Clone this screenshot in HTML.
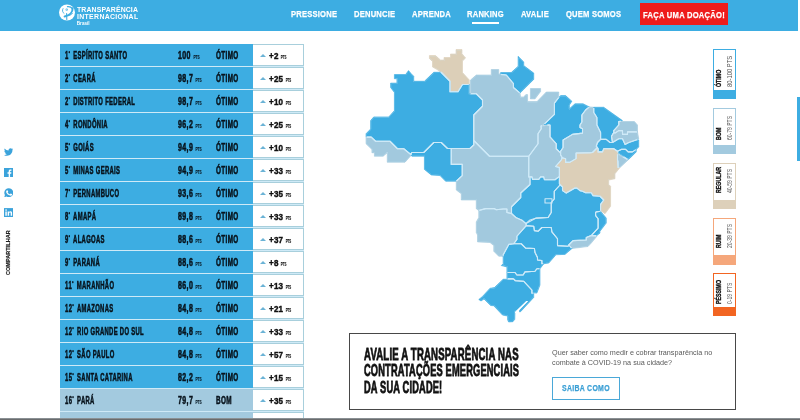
<!DOCTYPE html>
<html lang="pt-BR">
<head>
<meta charset="utf-8">
<title>Ranking de Transparência no Combate à COVID-19</title>
<style>
*{margin:0;padding:0;box-sizing:border-box}
html,body{width:800px;height:420px;overflow:hidden;background:#fff;font-family:"Liberation Sans",sans-serif}
body{position:relative}
.hdr{position:absolute;left:0;top:0;width:798px;height:30.5px;background:#3dade2}
.c{position:absolute;display:inline-block;white-space:nowrap;transform-origin:0 50%;font-weight:bold;color:#0f2a3a}
.nav{position:absolute;top:9.3px;font-size:9.5px;color:#fff;font-weight:bold;white-space:nowrap;display:inline-block;transform-origin:0 50%;transform:scaleX(.8);line-height:10px;letter-spacing:.25px;-webkit-text-stroke:.25px #fff}
.row{position:absolute;left:59.5px;width:244.6px;height:23px;background:linear-gradient(90deg,#3dade2 193.8px,#fff 193.8px);border-bottom:1.4px solid #cfeaf7}
.row.bom{background:linear-gradient(90deg,#a3cadf 193.8px,#fff 193.8px)}
.row .c{top:5.4px;font-size:10px;line-height:12px;transform:scaleX(.62);letter-spacing:.55px;-webkit-text-stroke:.55px #08131c;color:#08131c}
.row .name{left:5px;transform:scaleX(.588)}
.row .score{left:118.5px;transform:scaleX(.7)}
.row .grade{left:156px;transform:scaleX(.635)}
.row small{font-size:5.6px;-webkit-text-stroke:.2px #0f2a3a;display:inline-block;transform:scaleX(.8);transform-origin:0 50%;letter-spacing:0}
.row .dv small{font-size:5.4px;transform:scaleX(.55);-webkit-text-stroke:.15px #111}
.row sup{font-size:5px;vertical-align:4px;line-height:0}
.row .rk{margin-right:1.6px;letter-spacing:.9px}
.delta{position:absolute;left:193.6px;top:0;width:51px;height:21.6px;background:#fff;border:1px solid #a8cfdc;border-left:0}
.tri{position:absolute;left:7px;top:8.3px;width:0;height:0;border-left:3px solid transparent;border-right:3px solid transparent;border-bottom:3.4px solid #6bb3d6}
.delta .dv{left:16.4px;top:5.8px;font-size:8.2px;transform:scaleX(.98);letter-spacing:.2px;color:#111;-webkit-text-stroke:.4px #111}
.btn{position:absolute;left:640px;top:3px;width:88px;height:22px;background:#ee1c1c}
.btn .nav{left:3px;top:6.6px;letter-spacing:.32px;transform:scaleX(.8)}
.uline{position:absolute;left:472px;top:21.5px;width:27px;height:2px;background:#fff}
.lg{position:absolute;left:713px;width:23px;background:#fff;border:1px solid}
.lg i{position:absolute;left:0;right:0;bottom:0;height:8.5px}
.lg .v{position:absolute;left:0;bottom:9px;width:0;height:0}
.lg .v span{position:absolute;left:12px;top:0;display:block;white-space:nowrap;transform-origin:0 0;transform:rotate(-90deg) scaleX(.86);font-size:6.8px;line-height:8px;color:#555}
.lg .v span.b{left:1.4px;font-size:6.6px;transform:rotate(-90deg) scaleX(.8);font-weight:bold;color:#111;-webkit-text-stroke:.3px #111;letter-spacing:0}
.cta{position:absolute;left:349.3px;top:332.8px;width:387.2px;height:77px;border:1.4px solid #484848;background:#fff}
.cta h2{position:absolute;left:13.7px;top:12.2px;font-size:16.4px;line-height:16.4px;font-weight:bold;color:#111;white-space:nowrap;letter-spacing:.3px;-webkit-text-stroke:.8px #111}
.cta h2 span{display:block;transform-origin:0 50%}
.cta p{position:absolute;left:201.8px;top:14px;font-size:7.22px;line-height:10.5px;color:#5a5a5a;white-space:nowrap}
.cta .sb{position:absolute;left:201.3px;top:43.6px;width:68px;height:22.4px;border:1px solid #4aa8d8}
.cta .sb span{position:absolute;left:9.5px;top:4.9px;font-size:9px;line-height:10px;font-weight:bold;color:#3a9fd5;white-space:nowrap;transform-origin:0 50%;transform:scaleX(.77);letter-spacing:.4px;-webkit-text-stroke:.25px #3a9fd5}
.strip{position:absolute;left:796.5px;top:97px;width:4px;height:63.5px;background:#3dade2}
.bline{position:absolute;left:0;top:418.3px;width:800px;height:2px;background:linear-gradient(#9aa3a8,#5a5a5a)}
.soc{position:absolute;left:3.6px}
.share{position:absolute;left:4.9px;top:275.2px;width:0;height:0}
.share span{position:absolute;left:0;top:0;display:block;white-space:nowrap;transform-origin:0 0;transform:rotate(-90deg) scaleX(1.02);font-size:5.3px;line-height:7px;font-weight:bold;color:#222;letter-spacing:.1px;-webkit-text-stroke:.2px #222}
.lt{position:absolute;font-size:7.9px;line-height:8px;font-weight:bold;color:#fff;white-space:nowrap;display:inline-block;transform-origin:0 50%;transform:scaleX(.875);letter-spacing:.15px}
.lb{position:absolute;font-size:4.6px;line-height:5px;color:#fff;white-space:nowrap;font-weight:bold}
.row.last .c{top:7.5px}
.row.last .delta .dv{top:7.5px}
.row.last .tri{top:11px}
</style>
</head>
<body>
<div class="hdr">
<svg class="logo" style="position:absolute;left:58px;top:4px" width="18" height="18" viewBox="58 4 18 18"><circle cx="67" cy="12.5" r="8" fill="#fff"/><g fill="none" stroke="#3dade2" stroke-linecap="round"><path d="M72.6 8.2C72.8 12.2 69.5 15.6 64.6 16.6" stroke-width="2"/><path d="M67.5 6.6C69.6 6.4 71.4 7.2 72.4 8.6" stroke-width="1.3"/><path d="M63 8.6C62 10.4 62.4 12.4 64 13.4" stroke-width=".9"/><path d="M66.6 13.6L66.8 19.4" stroke-width="1.1"/><path d="M68.6 15.6C70.2 15.4 71.6 14.6 72.6 13.2" stroke-width=".8"/></g><circle cx="66.7" cy="9.7" r="1.15" fill="#3dade2"/><circle cx="66.7" cy="9.7" r=".5" fill="#fff"/></svg>
<span class="lt" style="left:76.8px;top:5.5px">TRANSPARÊNCIA</span>
<span class="lt" style="left:76.8px;top:13.3px;letter-spacing:.38px">INTERNACIONAL</span>
<span class="lb" style="left:76.8px;top:21px">Brasil</span>
<span class="nav" style="left:290.5px">PRESSIONE</span>
<span class="nav" style="left:354px">DENUNCIE</span>
<span class="nav" style="left:412px">APRENDA</span>
<span class="nav" style="left:467px">RANKING</span>
<span class="nav" style="left:521px">AVALIE</span>
<span class="nav" style="left:566px">QUEM SOMOS</span>
<i class="uline"></i>
<div class="btn"><span class="nav">FAÇA UMA DOAÇÃO!</span></div>
</div>
<div class="table">
<div class="row" style="top:44.3px"><span class="c name"><span class="rk">1<sup>º</sup></span> ESPÍRITO SANTO</span><span class="c score">100 <small>PTS</small></span><span class="c grade">ÓTIMO</span><div class="delta"><i class="tri"></i><span class="c dv">+2 <small>PTS</small></span></div></div>
<div class="row" style="top:67.3px"><span class="c name"><span class="rk">2<sup>º</sup></span> CEARÁ</span><span class="c score">98,7 <small>PTS</small></span><span class="c grade">ÓTIMO</span><div class="delta"><i class="tri"></i><span class="c dv">+25 <small>PTS</small></span></div></div>
<div class="row" style="top:90.3px"><span class="c name"><span class="rk">2<sup>º</sup></span> DISTRITO FEDERAL</span><span class="c score">98,7 <small>PTS</small></span><span class="c grade">ÓTIMO</span><div class="delta"><i class="tri"></i><span class="c dv">+10 <small>PTS</small></span></div></div>
<div class="row" style="top:113.3px"><span class="c name"><span class="rk">4<sup>º</sup></span> RONDÔNIA</span><span class="c score">96,2 <small>PTS</small></span><span class="c grade">ÓTIMO</span><div class="delta"><i class="tri"></i><span class="c dv">+25 <small>PTS</small></span></div></div>
<div class="row" style="top:136.3px"><span class="c name"><span class="rk">5<sup>º</sup></span> GOIÁS</span><span class="c score">94,9 <small>PTS</small></span><span class="c grade">ÓTIMO</span><div class="delta"><i class="tri"></i><span class="c dv">+10 <small>PTS</small></span></div></div>
<div class="row" style="top:159.3px"><span class="c name"><span class="rk">5<sup>º</sup></span> MINAS GERAIS</span><span class="c score">94,9 <small>PTS</small></span><span class="c grade">ÓTIMO</span><div class="delta"><i class="tri"></i><span class="c dv">+33 <small>PTS</small></span></div></div>
<div class="row" style="top:182.3px"><span class="c name"><span class="rk">7<sup>º</sup></span> PERNAMBUCO</span><span class="c score">93,6 <small>PTS</small></span><span class="c grade">ÓTIMO</span><div class="delta"><i class="tri"></i><span class="c dv">+35 <small>PTS</small></span></div></div>
<div class="row" style="top:205.3px"><span class="c name"><span class="rk">8<sup>º</sup></span> AMAPÁ</span><span class="c score">89,8 <small>PTS</small></span><span class="c grade">ÓTIMO</span><div class="delta"><i class="tri"></i><span class="c dv">+33 <small>PTS</small></span></div></div>
<div class="row" style="top:228.3px"><span class="c name"><span class="rk">9<sup>º</sup></span> ALAGOAS</span><span class="c score">88,6 <small>PTS</small></span><span class="c grade">ÓTIMO</span><div class="delta"><i class="tri"></i><span class="c dv">+37 <small>PTS</small></span></div></div>
<div class="row" style="top:251.3px"><span class="c name"><span class="rk">9<sup>º</sup></span> PARANÁ</span><span class="c score">88,6 <small>PTS</small></span><span class="c grade">ÓTIMO</span><div class="delta"><i class="tri"></i><span class="c dv">+8 <small>PTS</small></span></div></div>
<div class="row" style="top:274.3px"><span class="c name"><span class="rk">11<sup>º</sup></span> MARANHÃO</span><span class="c score">86,0 <small>PTS</small></span><span class="c grade">ÓTIMO</span><div class="delta"><i class="tri"></i><span class="c dv">+13 <small>PTS</small></span></div></div>
<div class="row" style="top:297.3px"><span class="c name"><span class="rk">12<sup>º</sup></span> AMAZONAS</span><span class="c score">84,8 <small>PTS</small></span><span class="c grade">ÓTIMO</span><div class="delta"><i class="tri"></i><span class="c dv">+21 <small>PTS</small></span></div></div>
<div class="row" style="top:320.3px"><span class="c name"><span class="rk">12<sup>º</sup></span> RIO GRANDE DO SUL</span><span class="c score">84,8 <small>PTS</small></span><span class="c grade">ÓTIMO</span><div class="delta"><i class="tri"></i><span class="c dv">+33 <small>PTS</small></span></div></div>
<div class="row" style="top:343.3px"><span class="c name"><span class="rk">12<sup>º</sup></span> SÃO PAULO</span><span class="c score">84,8 <small>PTS</small></span><span class="c grade">ÓTIMO</span><div class="delta"><i class="tri"></i><span class="c dv">+57 <small>PTS</small></span></div></div>
<div class="row" style="top:366.3px"><span class="c name"><span class="rk">15<sup>º</sup></span> SANTA CATARINA</span><span class="c score">82,2 <small>PTS</small></span><span class="c grade">ÓTIMO</span><div class="delta"><i class="tri"></i><span class="c dv">+15 <small>PTS</small></span></div></div>
<div class="row bom" style="top:389.3px"><span class="c name"><span class="rk">16<sup>º</sup></span> PARÁ</span><span class="c score">79,7 <small>PTS</small></span><span class="c grade">BOM</span><div class="delta"><i class="tri"></i><span class="c dv">+35 <small>PTS</small></span></div></div>
<div class="row bom last" style="top:412.3px"><span class="c name"><span class="rk">17<sup>º</sup></span> ACRE</span><span class="c score">78,5 <small>PTS</small></span><span class="c grade">BOM</span><div class="delta"><i class="tri"></i><span class="c dv">+30 <small>PTS</small></span></div></div>
</div>
<svg class="map" style="position:absolute;left:0;top:0" width="800" height="420" viewBox="0 0 800 420">
<defs><clipPath id="inl"><path clip-rule="evenodd" d="M366.65 143.47 L372.37 148.98 L372.54 149.45 L372.55 152.10 L374.25 152.12 L374.61 152.27 L374.88 152.54 L375.05 153.00 L375.05 155.60 L382.86 155.60 L386.42 152.63 L386.99 152.51 L387.53 152.73 L387.78 153.03 L387.90 153.50 L387.90 161.60 L404.71 161.60 L410.45 155.19 L410.77 154.96 L411.06 154.87 L411.36 154.87 L411.73 155.01 L412.24 155.60 L424.05 155.60 L424.52 155.72 L424.88 156.04 L425.05 156.60 L425.05 169.09 L431.50 174.37 L439.91 174.94 L440.31 175.05 L445.87 180.60 L455.90 180.60 L456.19 180.64 L456.53 180.83 L456.82 181.22 L456.90 181.60 L456.90 189.67 L461.50 193.12 L461.77 193.43 L461.90 193.92 L461.90 199.35 L475.90 199.35 L476.37 199.47 L476.67 199.72 L476.82 199.97 L476.90 200.35 L476.90 208.41 L479.05 209.92 L479.29 210.22 L479.40 210.68 L479.38 217.61 L476.90 222.07 L476.90 232.35 L478.04 234.64 L478.15 234.99 L478.15 241.28 L490.10 241.87 L490.50 242.07 L494.04 244.99 L494.28 245.30 L494.40 245.67 L494.40 250.98 L499.02 255.60 L502.85 255.60 L503.38 255.83 L503.67 256.22 L503.75 256.60 L503.75 263.70 L503.52 264.24 L502.54 265.23 L506.96 266.26 L507.39 266.63 L507.55 267.18 L507.55 278.22 L507.75 278.78 L507.68 279.16 L507.48 279.50 L507.24 279.68 L506.87 279.81 L503.37 279.89 L494.77 288.12 L494.38 288.26 L490.32 288.86 L482.99 296.82 L479.84 299.44 L481.00 300.22 L483.49 298.57 L483.95 298.45 L484.42 298.56 L490.89 304.87 L493.76 305.10 L494.25 305.34 L502.83 314.50 L507.42 315.31 L507.87 315.51 L508.13 315.82 L508.25 316.19 L508.25 319.66 L509.00 321.32 L512.57 321.07 L514.16 319.07 L514.34 311.66 L514.42 311.28 L514.64 310.97 L514.96 310.76 L515.33 310.68 L520.24 311.12 L533.10 297.15 L533.10 294.35 L532.68 293.98 L532.53 293.52 L532.57 293.14 L532.76 292.81 L533.06 292.56 L533.43 292.45 L536.45 292.45 L539.35 284.88 L539.39 268.59 L539.55 268.27 L543.28 263.33 L543.81 263.09 L548.42 262.49 L555.41 254.44 L555.83 254.15 L564.75 253.76 L571.50 248.07 L571.93 247.86 L587.69 245.88 L590.76 242.67 L596.08 236.23 L596.06 235.67 L596.30 235.24 L599.35 232.79 L599.35 231.28 L599.50 230.84 L605.60 222.88 L605.60 218.33 L600.43 212.06 L600.27 211.60 L600.35 211.11 L600.50 210.86 L600.81 210.62 L601.19 210.51 L601.58 210.56 L604.86 212.85 L609.95 206.03 L609.95 186.52 L608.39 184.96 L608.14 184.55 L608.10 180.29 L608.18 179.90 L608.47 179.51 L608.81 179.33 L614.35 178.22 L614.35 173.87 L614.39 173.59 L614.57 173.25 L619.52 167.06 L627.29 159.86 L627.33 159.40 L627.59 158.98 L629.01 158.22 L635.60 151.63 L635.60 149.54 L635.72 149.07 L638.10 146.63 L638.10 140.41 L637.69 140.19 L637.48 139.99 L637.32 139.64 L637.28 139.36 L637.46 138.81 L638.02 138.39 L636.85 131.96 L636.85 125.25 L634.11 122.15 L621.71 122.15 L621.24 122.03 L620.88 121.72 L620.72 121.27 L620.77 120.79 L621.07 120.38 L603.54 107.90 L593.76 107.90 L589.42 107.55 L589.05 107.45 L582.95 104.40 L575.25 104.40 L570.34 108.78 L569.88 108.96 L569.39 108.90 L568.99 108.61 L568.77 108.17 L568.77 104.91 L568.92 104.55 L571.05 101.36 L565.35 96.25 L560.87 96.25 L559.58 97.52 L559.11 97.64 L558.55 97.47 L558.27 97.20 L558.10 96.74 L558.10 92.65 L546.53 92.65 L537.57 101.94 L537.24 102.17 L536.95 102.24 L527.95 102.25 L527.39 102.08 L527.12 101.81 L526.95 101.35 L526.95 95.25 L526.25 95.25 L524.04 97.29 L523.64 97.51 L520.90 97.55 L520.33 97.37 L520.05 97.08 L519.91 96.71 L519.38 93.28 L519.50 92.74 L533.10 79.13 L533.10 73.43 L523.35 66.09 L523.11 65.53 L523.10 62.17 L518.75 57.82 L518.75 66.10 L518.66 66.50 L518.42 66.83 L511.79 72.89 L511.48 73.08 L511.11 73.15 L501.25 73.15 L501.25 73.94 L501.09 74.39 L500.65 74.76 L500.09 74.83 L498.57 74.13 L498.18 73.68 L498.10 73.28 L498.10 70.15 L491.90 70.15 L491.90 74.75 L491.67 75.28 L491.19 75.61 L476.49 75.65 L471.15 80.30 L471.15 93.50 L470.92 94.03 L470.53 94.32 L469.65 94.40 L469.18 94.28 L468.82 93.96 L468.65 93.40 L468.65 80.25 L462.11 73.04 L461.87 72.55 L461.87 60.95 L462.15 60.43 L464.71 57.96 L461.43 54.01 L461.35 53.62 L461.35 50.25 L456.65 50.25 L456.65 53.75 L456.53 54.12 L456.28 54.42 L455.94 54.61 L455.65 54.65 L451.15 54.65 L451.15 57.25 L451.03 57.62 L450.78 57.92 L450.44 58.11 L450.15 58.15 L444.65 58.15 L444.61 59.94 L444.36 60.36 L443.85 60.63 L440.63 60.65 L440.14 60.52 L435.25 56.25 L430.05 56.25 L430.05 58.22 L432.85 60.93 L433.11 61.35 L433.15 66.62 L437.30 68.92 L440.37 71.08 L440.72 71.54 L440.77 72.11 L440.67 72.38 L440.42 72.68 L439.89 72.90 L434.01 72.90 L424.95 81.62 L424.63 81.83 L424.26 81.90 L414.10 81.90 L413.54 81.73 L413.27 81.46 L413.10 81.00 L413.10 76.52 L410.75 74.17 L408.54 71.63 L406.16 74.83 L405.63 75.13 L395.05 75.15 L395.05 78.10 L396.84 78.14 L397.26 78.39 L397.51 78.81 L397.55 82.75 L397.47 83.13 L397.18 83.52 L396.65 83.75 L391.25 83.75 L391.25 87.28 L394.85 92.01 L395.05 92.53 L395.05 110.47 L394.96 110.87 L389.34 117.22 L388.87 117.51 L374.05 117.55 L371.25 120.84 L371.25 128.86 L371.18 129.23 L370.97 129.55 L366.65 134.01ZM618.16 152.39 L623.34 155.65 L623.56 155.97 L623.65 156.35 L623.59 156.73 L623.39 157.06 L622.89 157.35 L622.61 157.38 L622.23 157.29 L617.19 154.30 L616.96 154.00 L616.85 153.64 L616.87 153.15 L617.08 152.70 L617.39 152.46 L617.77 152.35ZM543.60 123.88 L544.17 123.76 L547.05 124.09 L547.37 124.31 L547.59 124.63 L547.67 125.01 L547.59 125.39 L547.31 125.79 L546.87 126.00 L542.88 126.44 L542.31 126.34 L542.01 126.09 L541.82 125.75 L541.78 125.36 L541.89 124.98 L542.22 124.62ZM531.05 98.25 L534.68 98.25 L539.95 91.28 L539.95 89.15 L531.05 89.15Z"/></clipPath></defs>
<g stroke-width=".6" stroke-linejoin="round">
<polygon fill="#dccfb8" stroke="#dccfb8" points="429.4,55.6 435.5,55.6 440.5,60 444,60 444,57.5 450.5,57.5 450.5,54 456,54 456,49.6 462,49.6 462,53.75 465.6,58 462.5,61 462.5,72.5 469.3,80 469.3,84.5 462.5,84.5 458,91.75 450,91.75 450,81.25 441.25,72.5 437,69.5 432.5,67 432.5,61.5 429.4,58.5"/>
<polygon fill="#3dade2" stroke="#3dade2" points="394.4,74.5 405.6,74.5 408.5,70.6 411.25,73.75 413.75,76.25 413.75,81.25 424.4,81.25 433.75,72.25 441.25,72.25 450,81.25 450,91.75 458,91.75 462.5,84.5 469.3,84.5 469.3,93.75 476.25,93.75 482.5,100 482.5,106.25 473.75,115 473.75,145 470,148.5 447.5,148.5 441.25,142.5 433.75,142.5 423.75,152.5 411.9,152.5 410.6,154.4 403.75,148.75 397.5,148.75 390,141.25 375.6,141.25 371.25,137.1 366,137.1 366,133.75 370.6,129 370.6,120.6 373.75,116.9 388.75,116.9 394.4,110.6 394.4,92.5 390.6,87.5 390.6,83.1 396.9,83.1 396.9,78.75 394.4,78.75"/>
<polygon fill="#a2c9de" stroke="#a2c9de" points="366,137.1 371.25,137.1 375.6,141.25 390,141.25 397.5,148.75 403.75,148.75 411.5,155 405,162.25 387.25,162.25 387.25,152.75 383.1,156.25 374.4,156.25 374.4,152.75 371.9,152.75 371.9,149.4 366,143.75"/>
<polygon fill="#3dade2" stroke="#3dade2" points="410.6,154.4 411.9,152.5 423.75,152.5 433.75,142.5 441.25,142.5 447.5,148.5 451.25,148.5 451.25,164.4 462.25,164.4 462.25,175.6 456.25,181.25 445.6,181.25 440,175.6 431.25,175 424.4,169.4 424.4,156.25 411.9,156.25"/>
<polygon fill="#a2c9de" stroke="#a2c9de" points="470.5,80 476.25,75 491.25,75 491.25,69.5 498.75,69.5 498.75,73.5 500.6,74.4 506.25,75 513.4,83.5 513.4,87.5 520,93.1 520.6,96.9 523.5,96.9 526,94.6 527.6,94.6 527.6,101.6 537,101.6 546.25,92 558.75,92 558.75,97.5 554.4,103.1 554.4,114.4 544,124.4 541,126 541.25,128.75 538,133.75 538,143.75 528.75,156.25 489.5,156.25 473.75,140.5 473.75,115 482.5,106.25 482.5,100 476.25,93.75 470.5,93.75"/>
<polygon fill="#3dade2" stroke="#3dade2" points="500.6,72.5 511.25,72.5 518.1,66.25 518.1,56.25 523.75,61.9 523.75,65.6 533.75,73.1 533.75,79.4 520,93.1 513.4,87.5 513.4,83.5 506.25,75 500.6,74.4"/>
<polygon fill="#a2c9de" stroke="#a2c9de" points="530.4,88.5 540.6,88.5 540.6,91.5 535,98.9 530.4,98.9"/>
<polygon fill="#3dade2" stroke="#3dade2" points="558.75,97.5 560.6,95.6 565.6,95.6 571.9,101.25 569.4,105 569.4,108.75 575,103.75 583.1,103.75 589.4,106.9 585.6,110 581.9,115 581.9,122 580,125 580,127.5 582.5,128.75 582.5,133.1 572.5,134.4 563.1,140 563.1,147.5 560.6,151.25 560.6,153.1 556.25,148.75 556.25,143.75 550,136.9 550,125 544,124.4 554.4,114.4 554.4,103.1"/>
<polygon fill="#a2c9de" stroke="#a2c9de" points="589.4,106.9 593.75,107.25 593.75,112.5 596.9,117.5 596.9,125 600.6,132.5 600.6,139.4 597.5,142.5 596.25,146.25 597.5,147.5 592.5,152.5 577.5,153 576.1,153 576.1,158.6 569.75,162.4 565.6,162.4 565.6,158.8 562.5,158 560.6,155 560.6,151.25 563.1,147.5 563.1,140 572.5,134.4 582.5,133.1 582.5,128.75 580,127.5 580,125 581.9,122 581.9,115 585.6,110"/>
<polygon fill="#3dade2" stroke="#3dade2" points="593.75,107.25 603.75,107.25 622.5,120.6 618.75,121.5 618.75,125 613.75,130.6 613.75,132.5 611.5,136.25 612.5,142.5 610,142.5 606.25,139.4 600.6,139.4 600.6,132.5 596.9,125 596.9,117.5 593.75,112.5"/>
<polygon fill="#a2c9de" stroke="#a2c9de" points="618.75,121.5 634.4,121.5 637.5,125 637.5,131.9 627.5,131.9 627.5,134.4 622.5,134.4 622.5,130.6 618.75,130.6 615,133.1 613.75,132.5 613.75,130.6 618.75,125"/>
<polygon fill="#a2c9de" stroke="#a2c9de" points="613.75,132.5 615,133.1 618.75,130.6 622.5,130.6 622.5,134.4 627.5,134.4 627.5,131.9 637.5,131.9 638.75,138.75 637.5,139.4 628.75,142.5 625,144.4 622.5,138.75 618.75,138.75 612.5,142.5 611.5,136.25"/>
<polygon fill="#3dade2" stroke="#3dade2" points="600.6,139.4 606.25,139.4 610,142.5 612.5,142.5 618.75,138.75 622.5,138.75 625,144.4 628.75,142.5 637.5,139.4 638.75,140 638.75,146.9 636.25,149.4 632.5,151.9 628.1,151.9 625.6,149.4 621.25,149.4 617.5,151.25 613.75,148.75 603.75,148.75 602.5,151.9 598.1,151.9 598.1,148.75 596.25,146.25 597.5,142.5"/>
<polygon fill="#3dade2" stroke="#3dade2" points="617.5,151.25 621.25,149.4 625.6,149.4 628.1,151.9 632.5,151.9 636.25,149.4 636.25,151.9 629.4,158.75 628.1,159.4 618.1,153.1"/>
<polygon fill="#a2c9de" stroke="#a2c9de" points="617.5,153.75 628.1,160 620,167.5 618.1,167.5 618.1,161.25 617.5,160"/>
<polygon fill="#dccfb8" stroke="#dccfb8" points="561.25,160 561.9,157.5 565.6,158.8 565.6,162.4 569.75,162.4 576.1,158.6 576.1,153 590,153 592.5,152.5 597.5,147.5 598.1,148.75 598.1,151.9 602.5,151.9 603.75,148.75 613.75,148.75 617.5,151.25 617.5,160 618.1,167.5 620,167.5 615,173.75 615,178.75 608.75,180 608.75,184.4 610.6,186.25 610.6,206.25 605,213.75 600.6,210.6 600.6,204.4 603.75,200 600,196.25 593.1,195.6 591.25,192.75 585.6,192.75 582.5,191.25 580,190.6 576.9,188.1 575,188.1 566.25,193.1 562.5,190.6 562.5,186.9 559.4,183.75 559.4,167.5 555.6,166.5"/>
<polygon fill="#a2c9de" stroke="#a2c9de" points="541,126 550,125 550,136.9 556.25,143.75 556.25,148.75 560.6,153.1 560.6,155 562.5,158 561.25,160 555.6,166.5 559.4,167.5 559.4,176.9 558.75,176.9 555,179.75 544.4,179.75 543.75,176.9 540.6,176.9 538.75,179.4 532.5,179.4 532,176.9 528.75,176.9 528.75,156.25 538,143.75 538,133.75 541.25,128.75"/>
<polygon fill="#a2c9de" stroke="#a2c9de" points="451.25,148.5 470,148.5 473.75,145 473.75,140.5 489.5,156.25 528.75,156.25 528.75,177 530,177 530,184.5 520.75,193 520.75,197.5 511.5,206.75 511.5,213.5 506.9,212.5 506.9,209 503.1,209 496.25,209.75 494,208.6 485.6,208.6 478.75,210.5 476.25,208.75 476.25,200 461.25,200 461.25,193.75 456.25,190 456.25,181.25 462.25,175.6 462.25,164.4 451.25,164.4"/>
<polygon fill="#a2c9de" stroke="#a2c9de" points="478.75,210.5 485.6,208.6 494,208.6 496.25,209.75 503.1,209 506.9,209 506.9,212.5 511.5,213.5 516.25,217.8 522.5,220.6 526,223.6 526.25,225.6 516.9,236.25 516.9,239.4 513.75,243.75 508.75,244.4 503.1,255 503.1,256.25 498.75,256.25 493.75,251.25 493.75,245.6 490,242.5 477.5,241.9 477.5,235 476.25,232.5 476.25,221.9 478.75,217.5"/>
<polygon fill="#3dade2" stroke="#3dade2" points="530,176.9 532,176.9 532.5,179.4 538.75,179.4 540.6,176.9 543.75,176.9 544.4,179.75 555,179.75 558.75,176.9 559.4,176.9 559.4,183.75 560,185 554.25,191.25 554.25,199 551.25,202.5 551.25,212.5 548.1,217.5 536.25,218.1 526,223.6 522.5,220.6 516.25,217.8 511.5,213.5 511.5,206.75 520.75,197.5 520.75,193 530,184.5"/>
<polygon fill="#3dade2" stroke="#3dade2" points="560,185 562.5,186.9 562.5,190.6 566.25,193.1 575,188.1 576.9,188.1 580,190.6 582.5,191.25 585.6,192.75 591.25,192.75 593.1,195.6 600,196.25 603.75,200 600.6,204.4 600.6,211.25 596.25,211.9 595.6,212.5 595.6,215.6 598.1,218.75 598.1,228.1 591.25,235.6 586.25,237.5 586.25,240 573.1,240.6 568.75,245 568.1,246.25 557.5,245.6 557.5,238.75 551.9,231.9 551.25,227.5 541.9,227.5 538.1,231.25 534.4,230.6 533.75,226.25 526.25,225.6 526,223.6 529.4,220.3 536.25,218.1 548.1,217.5 551.25,212.5 551.25,202.5 554.25,199 554.25,191.25"/>
<polygon fill="#3dade2" stroke="#3dade2" points="545,198.75 552,198.75 552,203 545,203"/>
<polygon fill="#3dade2" stroke="#3dade2" points="596.25,211.9 600.6,211.25 606.25,218.1 606.25,223.1 600,231.25 600,233.1 596.9,235.6 591.25,235.6 598.1,228.1 598.1,218.75 595.6,215.6 595.6,212.5"/>
<polygon fill="#a2c9de" stroke="#a2c9de" points="591.25,235.6 596.9,236.25 591.25,243.1 588,246.5 572,248.5 568.75,245 573.1,240.6 586.25,240 586.25,237.5"/>
<polygon fill="#3dade2" stroke="#3dade2" points="526.25,225.6 533.75,226.25 534.4,230.6 538.1,231.25 541.9,227.5 551.25,227.5 551.9,231.9 557.5,238.75 557.5,245.6 568.1,246.25 568.75,245 572,248.5 565,254.4 556,254.75 548.75,263.1 543.75,263.75 541.9,263.75 541.9,260.6 537.5,260 537.5,257.5 535,252.5 534.4,248.5 525.6,248.1 521.25,243.75 513.75,243.75 516.9,239.4 516.9,236.25"/>
<polygon fill="#3dade2" stroke="#3dade2" points="513.75,243.75 521.25,243.75 525.6,248.1 534.4,248.5 535,252.5 537.5,257.5 537.5,260 541.9,260.6 541.9,263.75 543.75,263.75 540,268.75 536.9,268.75 535,271.25 525,271.9 523.1,275 516.9,275 515,272.5 506.9,272.5 506.9,266.9 501.25,265.6 503.1,263.75 503.1,255 508.75,244.4"/>
<polygon fill="#3dade2" stroke="#3dade2" points="506.9,272.5 515,272.5 516.9,275 523.1,275 525,271.9 535,271.25 536.9,268.75 540,268.75 540,285 536.9,293.1 531.9,293.1 531.9,290 523.75,281.25 515,280.6 513.1,278.5 506.9,278.5"/>
<polygon fill="#3dade2" stroke="#3dade2" points="503.1,279.25 513.75,279 515.6,280.75 523.75,281.4 531.9,290.1 531.9,293.25 533.75,293.9 533.75,297.4 520.5,311.8 515,311.3 514.8,319.3 512.9,321.7 508.6,322 507.6,319.8 507.6,316 502.5,315.1 493.75,305.75 490.6,305.5 484,299 481,301 478.75,299.5 482.5,296.4 490,288.25 494.4,287.6"/>
</g>
<g clip-path="url(#inl)" fill="none" stroke="#cfeaf8" stroke-width="1.1" stroke-linejoin="round">
<polygon points="429.4,55.6 435.5,55.6 440.5,60 444,60 444,57.5 450.5,57.5 450.5,54 456,54 456,49.6 462,49.6 462,53.75 465.6,58 462.5,61 462.5,72.5 469.3,80 469.3,84.5 462.5,84.5 458,91.75 450,91.75 450,81.25 441.25,72.5 437,69.5 432.5,67 432.5,61.5 429.4,58.5"/>
<polygon points="394.4,74.5 405.6,74.5 408.5,70.6 411.25,73.75 413.75,76.25 413.75,81.25 424.4,81.25 433.75,72.25 441.25,72.25 450,81.25 450,91.75 458,91.75 462.5,84.5 469.3,84.5 469.3,93.75 476.25,93.75 482.5,100 482.5,106.25 473.75,115 473.75,145 470,148.5 447.5,148.5 441.25,142.5 433.75,142.5 423.75,152.5 411.9,152.5 410.6,154.4 403.75,148.75 397.5,148.75 390,141.25 375.6,141.25 371.25,137.1 366,137.1 366,133.75 370.6,129 370.6,120.6 373.75,116.9 388.75,116.9 394.4,110.6 394.4,92.5 390.6,87.5 390.6,83.1 396.9,83.1 396.9,78.75 394.4,78.75"/>
<polygon points="366,137.1 371.25,137.1 375.6,141.25 390,141.25 397.5,148.75 403.75,148.75 411.5,155 405,162.25 387.25,162.25 387.25,152.75 383.1,156.25 374.4,156.25 374.4,152.75 371.9,152.75 371.9,149.4 366,143.75"/>
<polygon points="410.6,154.4 411.9,152.5 423.75,152.5 433.75,142.5 441.25,142.5 447.5,148.5 451.25,148.5 451.25,164.4 462.25,164.4 462.25,175.6 456.25,181.25 445.6,181.25 440,175.6 431.25,175 424.4,169.4 424.4,156.25 411.9,156.25"/>
<polygon points="470.5,80 476.25,75 491.25,75 491.25,69.5 498.75,69.5 498.75,73.5 500.6,74.4 506.25,75 513.4,83.5 513.4,87.5 520,93.1 520.6,96.9 523.5,96.9 526,94.6 527.6,94.6 527.6,101.6 537,101.6 546.25,92 558.75,92 558.75,97.5 554.4,103.1 554.4,114.4 544,124.4 541,126 541.25,128.75 538,133.75 538,143.75 528.75,156.25 489.5,156.25 473.75,140.5 473.75,115 482.5,106.25 482.5,100 476.25,93.75 470.5,93.75"/>
<polygon points="500.6,72.5 511.25,72.5 518.1,66.25 518.1,56.25 523.75,61.9 523.75,65.6 533.75,73.1 533.75,79.4 520,93.1 513.4,87.5 513.4,83.5 506.25,75 500.6,74.4"/>
<polygon points="530.4,88.5 540.6,88.5 540.6,91.5 535,98.9 530.4,98.9"/>
<polygon points="558.75,97.5 560.6,95.6 565.6,95.6 571.9,101.25 569.4,105 569.4,108.75 575,103.75 583.1,103.75 589.4,106.9 585.6,110 581.9,115 581.9,122 580,125 580,127.5 582.5,128.75 582.5,133.1 572.5,134.4 563.1,140 563.1,147.5 560.6,151.25 560.6,153.1 556.25,148.75 556.25,143.75 550,136.9 550,125 544,124.4 554.4,114.4 554.4,103.1"/>
<polygon points="589.4,106.9 593.75,107.25 593.75,112.5 596.9,117.5 596.9,125 600.6,132.5 600.6,139.4 597.5,142.5 596.25,146.25 597.5,147.5 592.5,152.5 577.5,153 576.1,153 576.1,158.6 569.75,162.4 565.6,162.4 565.6,158.8 562.5,158 560.6,155 560.6,151.25 563.1,147.5 563.1,140 572.5,134.4 582.5,133.1 582.5,128.75 580,127.5 580,125 581.9,122 581.9,115 585.6,110"/>
<polygon points="593.75,107.25 603.75,107.25 622.5,120.6 618.75,121.5 618.75,125 613.75,130.6 613.75,132.5 611.5,136.25 612.5,142.5 610,142.5 606.25,139.4 600.6,139.4 600.6,132.5 596.9,125 596.9,117.5 593.75,112.5"/>
<polygon points="618.75,121.5 634.4,121.5 637.5,125 637.5,131.9 627.5,131.9 627.5,134.4 622.5,134.4 622.5,130.6 618.75,130.6 615,133.1 613.75,132.5 613.75,130.6 618.75,125"/>
<polygon points="613.75,132.5 615,133.1 618.75,130.6 622.5,130.6 622.5,134.4 627.5,134.4 627.5,131.9 637.5,131.9 638.75,138.75 637.5,139.4 628.75,142.5 625,144.4 622.5,138.75 618.75,138.75 612.5,142.5 611.5,136.25"/>
<polygon points="600.6,139.4 606.25,139.4 610,142.5 612.5,142.5 618.75,138.75 622.5,138.75 625,144.4 628.75,142.5 637.5,139.4 638.75,140 638.75,146.9 636.25,149.4 632.5,151.9 628.1,151.9 625.6,149.4 621.25,149.4 617.5,151.25 613.75,148.75 603.75,148.75 602.5,151.9 598.1,151.9 598.1,148.75 596.25,146.25 597.5,142.5"/>
<polygon points="617.5,151.25 621.25,149.4 625.6,149.4 628.1,151.9 632.5,151.9 636.25,149.4 636.25,151.9 629.4,158.75 628.1,159.4 618.1,153.1"/>
<polygon points="617.5,153.75 628.1,160 620,167.5 618.1,167.5 618.1,161.25 617.5,160"/>
<polygon points="561.25,160 561.9,157.5 565.6,158.8 565.6,162.4 569.75,162.4 576.1,158.6 576.1,153 590,153 592.5,152.5 597.5,147.5 598.1,148.75 598.1,151.9 602.5,151.9 603.75,148.75 613.75,148.75 617.5,151.25 617.5,160 618.1,167.5 620,167.5 615,173.75 615,178.75 608.75,180 608.75,184.4 610.6,186.25 610.6,206.25 605,213.75 600.6,210.6 600.6,204.4 603.75,200 600,196.25 593.1,195.6 591.25,192.75 585.6,192.75 582.5,191.25 580,190.6 576.9,188.1 575,188.1 566.25,193.1 562.5,190.6 562.5,186.9 559.4,183.75 559.4,167.5 555.6,166.5"/>
<polygon points="541,126 550,125 550,136.9 556.25,143.75 556.25,148.75 560.6,153.1 560.6,155 562.5,158 561.25,160 555.6,166.5 559.4,167.5 559.4,176.9 558.75,176.9 555,179.75 544.4,179.75 543.75,176.9 540.6,176.9 538.75,179.4 532.5,179.4 532,176.9 528.75,176.9 528.75,156.25 538,143.75 538,133.75 541.25,128.75"/>
<polygon points="451.25,148.5 470,148.5 473.75,145 473.75,140.5 489.5,156.25 528.75,156.25 528.75,177 530,177 530,184.5 520.75,193 520.75,197.5 511.5,206.75 511.5,213.5 506.9,212.5 506.9,209 503.1,209 496.25,209.75 494,208.6 485.6,208.6 478.75,210.5 476.25,208.75 476.25,200 461.25,200 461.25,193.75 456.25,190 456.25,181.25 462.25,175.6 462.25,164.4 451.25,164.4"/>
<polygon points="478.75,210.5 485.6,208.6 494,208.6 496.25,209.75 503.1,209 506.9,209 506.9,212.5 511.5,213.5 516.25,217.8 522.5,220.6 526,223.6 526.25,225.6 516.9,236.25 516.9,239.4 513.75,243.75 508.75,244.4 503.1,255 503.1,256.25 498.75,256.25 493.75,251.25 493.75,245.6 490,242.5 477.5,241.9 477.5,235 476.25,232.5 476.25,221.9 478.75,217.5"/>
<polygon points="530,176.9 532,176.9 532.5,179.4 538.75,179.4 540.6,176.9 543.75,176.9 544.4,179.75 555,179.75 558.75,176.9 559.4,176.9 559.4,183.75 560,185 554.25,191.25 554.25,199 551.25,202.5 551.25,212.5 548.1,217.5 536.25,218.1 526,223.6 522.5,220.6 516.25,217.8 511.5,213.5 511.5,206.75 520.75,197.5 520.75,193 530,184.5"/>
<polygon points="560,185 562.5,186.9 562.5,190.6 566.25,193.1 575,188.1 576.9,188.1 580,190.6 582.5,191.25 585.6,192.75 591.25,192.75 593.1,195.6 600,196.25 603.75,200 600.6,204.4 600.6,211.25 596.25,211.9 595.6,212.5 595.6,215.6 598.1,218.75 598.1,228.1 591.25,235.6 586.25,237.5 586.25,240 573.1,240.6 568.75,245 568.1,246.25 557.5,245.6 557.5,238.75 551.9,231.9 551.25,227.5 541.9,227.5 538.1,231.25 534.4,230.6 533.75,226.25 526.25,225.6 526,223.6 529.4,220.3 536.25,218.1 548.1,217.5 551.25,212.5 551.25,202.5 554.25,199 554.25,191.25"/>
<polygon points="545,198.75 552,198.75 552,203 545,203"/>
<polygon points="596.25,211.9 600.6,211.25 606.25,218.1 606.25,223.1 600,231.25 600,233.1 596.9,235.6 591.25,235.6 598.1,228.1 598.1,218.75 595.6,215.6 595.6,212.5"/>
<polygon points="591.25,235.6 596.9,236.25 591.25,243.1 588,246.5 572,248.5 568.75,245 573.1,240.6 586.25,240 586.25,237.5"/>
<polygon points="526.25,225.6 533.75,226.25 534.4,230.6 538.1,231.25 541.9,227.5 551.25,227.5 551.9,231.9 557.5,238.75 557.5,245.6 568.1,246.25 568.75,245 572,248.5 565,254.4 556,254.75 548.75,263.1 543.75,263.75 541.9,263.75 541.9,260.6 537.5,260 537.5,257.5 535,252.5 534.4,248.5 525.6,248.1 521.25,243.75 513.75,243.75 516.9,239.4 516.9,236.25"/>
<polygon points="513.75,243.75 521.25,243.75 525.6,248.1 534.4,248.5 535,252.5 537.5,257.5 537.5,260 541.9,260.6 541.9,263.75 543.75,263.75 540,268.75 536.9,268.75 535,271.25 525,271.9 523.1,275 516.9,275 515,272.5 506.9,272.5 506.9,266.9 501.25,265.6 503.1,263.75 503.1,255 508.75,244.4"/>
<polygon points="506.9,272.5 515,272.5 516.9,275 523.1,275 525,271.9 535,271.25 536.9,268.75 540,268.75 540,285 536.9,293.1 531.9,293.1 531.9,290 523.75,281.25 515,280.6 513.1,278.5 506.9,278.5"/>
<polygon points="503.1,279.25 513.75,279 515.6,280.75 523.75,281.4 531.9,290.1 531.9,293.25 533.75,293.9 533.75,297.4 520.5,311.8 515,311.3 514.8,319.3 512.9,321.7 508.6,322 507.6,319.8 507.6,316 502.5,315.1 493.75,305.75 490.6,305.5 484,299 481,301 478.75,299.5 482.5,296.4 490,288.25 494.4,287.6"/>
</g>
<polygon fill="#fff" points="526.2,301 528.3,301 519.3,310.3 518.8,313 514.9,313 515.6,311.2"/>
</svg>
<div class="lg" style="top:49px;height:50px;border-color:#3dade2"><i style="background:#3dade2"></i><div class="v" style="bottom:11px"><span class="b">ÓTIMO</span><span>80-100 PTS</span></div></div>
<div class="lg" style="top:108px;height:46px;border-color:#a3cadf"><i style="background:#a3cadf"></i><div class="v" style="bottom:13.5px"><span class="b">BOM</span><span style="transform:rotate(-90deg) scaleX(.74)">60-79 PTS</span></div></div>
<div class="lg" style="top:162.5px;height:46.5px;border-color:#ddd0ba"><i style="background:#ddd0ba"></i><div class="v" style="bottom:15.5px"><span class="b">REGULAR</span><span style="transform:rotate(-90deg) scaleX(.74)">40-59 PTS</span></div></div>
<div class="lg" style="top:218px;height:46.5px;border-color:#f5a77b"><i style="background:#f5a77b"></i><div class="v" style="bottom:16px"><span class="b">RUIM</span><span style="transform:rotate(-90deg) scaleX(.74)">20-39 PTS</span></div></div>
<div class="lg" style="top:273px;height:43px;border-color:#f26522"><i style="background:#f26522"></i><div class="v" style="bottom:11.3px"><span class="b">PÉSSIMO</span><span style="transform:rotate(-90deg) scaleX(.74)">0-19 PTS</span></div></div>
<div class="strip"></div>
<div class="cta">
<h2><span style="transform:scaleX(.585)">AVALIE A TRANSPARÊNCIA NAS</span><span style="transform:scaleX(.565)">CONTRATAÇÕES EMERGENCIAIS</span><span style="transform:scaleX(.565)">DA SUA CIDADE!</span></h2>
<p>Quer saber como medir e cobrar transparência no<br>combate à COVID-19 na sua cidade?</p>
<div class="sb"><span>SAIBA COMO</span></div>
</div>
<svg class="soc" style="top:148px" width="9.4" height="8" viewBox="0 2 24 20"><path fill="#3ba3db" d="M23.953 4.57a10 10 0 01-2.825.775 4.958 4.958 0 002.163-2.723c-.951.555-2.005.959-3.127 1.184a4.92 4.92 0 00-8.384 4.482C7.69 8.095 4.067 6.13 1.64 3.162a4.822 4.822 0 00-.666 2.475c0 1.71.87 3.213 2.188 4.096a4.904 4.904 0 01-2.228-.616v.06a4.923 4.923 0 003.946 4.827 4.996 4.996 0 01-2.212.085 4.936 4.936 0 004.604 3.417 9.867 9.867 0 01-6.102 2.105c-.39 0-.779-.023-1.17-.067a13.995 13.995 0 007.557 2.209c9.053 0 13.998-7.496 13.998-13.985 0-.21 0-.42-.015-.63A9.935 9.935 0 0024 4.59z"/></svg>
<svg class="soc" style="top:168.3px" width="9" height="9" viewBox="0 0 24 24"><rect width="24" height="24" fill="#3ba3db"/><path fill="#fff" d="M16.2 24v-9h3l.5-3.6h-3.500V9.200c0-1 .3-1.700 1.800-1.700h1.900V4.200c-.3 0-1.500-.1-2.800-.1-2.800 0-4.600 1.700-4.600 4.800v2.500H9.400V15h3.100v9z"/></svg>
<svg class="soc" style="top:187.6px" width="9.6" height="9.4" viewBox="0 0 24 24"><path fill="#3ba3db" d="M12 .5C5.600.5.500 5.600.500 12c0 2.100.6 4.100 1.600 5.900L.4 23.600l5.900-1.600c1.700.9 3.700 1.500 5.700 1.500 6.400 0 11.500-5.100 11.500-11.500S18.400.5 12 .5z"/><path fill="#fff" d="M9 6.300c-.3-.6-.5-.6-.8-.6h-.700c-.2 0-.6.100-1 .5-.3.400-1.300 1.300-1.300 3.100s1.300 3.600 1.500 3.800c.2.200 2.600 4.100 6.400 5.600 3.100 1.200 3.800 1 4.500.9.700-.1 2.200-.9 2.500-1.800.3-.9.300-1.600.2-1.800-.1-.2-.300-.3-.700-.500l-2.500-1.200c-.3-.1-.6-.2-.800.200-.2.400-1 1.200-1.200 1.400-.2.200-.4.300-.800.100-.4-.2-1.600-.6-3-1.900-1.100-1-1.900-2.200-2.100-2.600-.2-.4 0-.6.200-.8l.6-.7c.2-.2.200-.4.400-.600.100-.200.100-.5 0-.7z"/></svg>
<svg class="soc" style="top:207.8px" width="9" height="9.200" viewBox="0 0 24 24"><rect width="24" height="24" fill="#3ba3db"/><rect x="3.600" y="9" width="3.800" height="11.500" fill="#fff"/><circle cx="5.500" cy="5.400" r="2.200" fill="#fff"/><path fill="#fff" d="M9.800 9h3.600v1.600c.6-1.100 2-1.900 3.900-1.900 3.800 0 4.300 2.500 4.300 5.400v6.400h-3.800v-5.700c0-1.400 0-3-1.900-3s-2.300 1.500-2.300 2.900v5.800H9.800z"/></svg>
<div class="share"><span>COMPARTILHAR</span></div>
<div class="bline"></div>
</body>
</html>
